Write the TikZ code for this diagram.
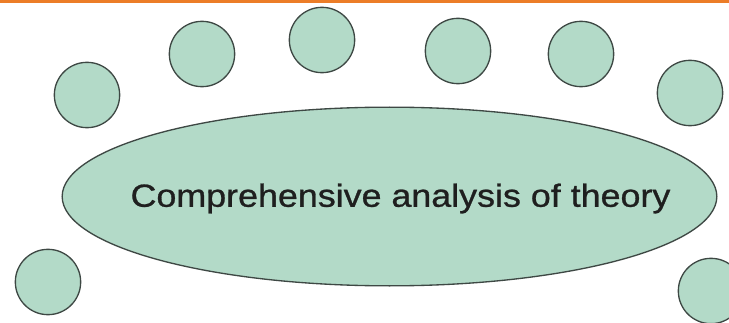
\documentclass[tikz,border=0pt]{standalone}
\usepackage{fontspec}
\setmainfont{Liberation Sans}
\newfontfamily\boldishfont[FakeBold=0.8]{Liberation Sans}
\usetikzlibrary{shapes.geometric}
\definecolor{mint}{RGB}{179,218,200}
\definecolor{rim}{RGB}{62,72,68}
\definecolor{barorange}{RGB}{236,125,40}
\tikzset{
	bubble/.style={circle, draw=rim, fill=mint, line width=1pt, minimum size=49pt, inner sep=0pt},
	core/.style={ellipse, draw=rim, fill=mint, line width=1pt, minimum width=491pt, minimum height=134pt, inner sep=0pt}
}

\begin{document}
\begin{tikzpicture}[x=0.75pt,y=0.75pt]
			\clip (0,0) rectangle (729,322);
			\fill[white] (0,0) rectangle (729,322);
			\fill[barorange] (0,318.5) rectangle (729,322);
			\node[core] (theory) at (389.5,125.5) {};
			\node[font=\boldishfont\fontsize{24}{28}\selectfont, text=black!88, xscale=1.12] (title) at (400.5,123.5) {Comprehensive analysis of theory};
			\node[bubble] (b1) at (87,227) {};
			\node[bubble] (b2) at (202,268) {};
			\node[bubble] (b3) at (322,282) {};
			\node[bubble] (b4) at (458,271) {};
			\node[bubble] (b5) at (581,268) {};
			\node[bubble] (b6) at (690,229) {};
			\node[bubble] (b7) at (48,40) {};
			\node[bubble] (b8) at (711,31) {};
		\end{tikzpicture}
\end{document}
